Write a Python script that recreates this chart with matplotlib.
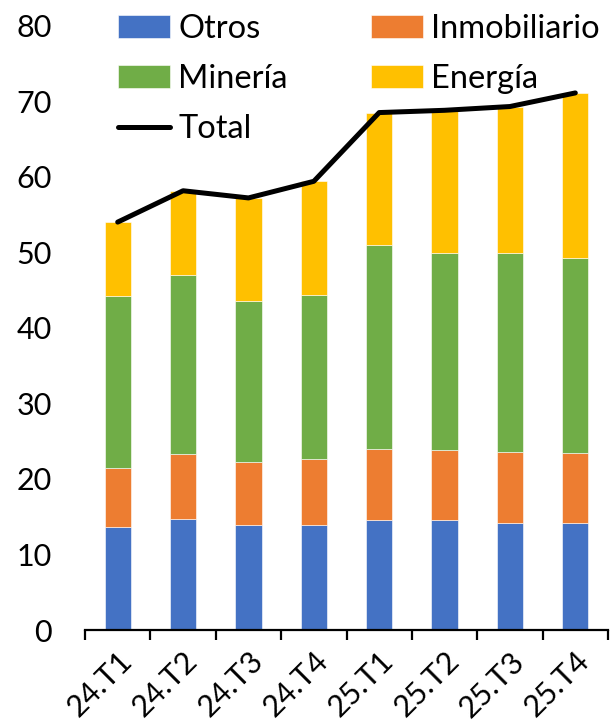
import matplotlib
matplotlib.use("Agg")
import matplotlib.pyplot as plt
import numpy as np

categories = ["24.T1", "24.T2", "24.T3", "24.T4", "25.T1", "25.T2", "25.T3", "25.T4"]
otros = [13.6, 14.65, 13.95, 13.95, 14.6, 14.5, 14.2, 14.1]
inmobiliario = [7.8, 8.65, 8.25, 8.75, 9.3, 9.35, 9.3, 9.3]
mineria = [22.85, 23.7, 21.3, 21.7, 27.1, 26.05, 26.4, 25.8]
energia = [9.75, 11.15, 13.7, 15.0, 17.5, 18.9, 19.4, 21.9]

plt.rcParams['font.family'] = ['Lato', 'DejaVu Sans']

colors = {"Otros": "#4472C4", "Inmobiliario": "#ED7D31", "Minería": "#70AD47", "Energía": "#FFC000"}

fig = plt.figure(figsize=(6.10, 7.21), dpi=100)
ax = fig.add_axes([85/610, 1-630/721, (608-85)/610, (630-25.7)/721])

x = np.arange(len(categories))
w = 0.40
series = [("Otros", otros), ("Inmobiliario", inmobiliario), ("Minería", mineria), ("Energía", energia)]
bottom = np.zeros(len(categories))
handles = {}
for name, vals in series:
    vals = np.array(vals)
    b = ax.bar(x, vals, w, bottom=bottom, color=colors[name], edgecolor='white', linewidth=0.4, label=name, zorder=2)
    handles[name] = b
    bottom = bottom + vals
total = bottom
ln, = ax.plot(x, total, color='black', lw=3.6, label='Total', zorder=3, solid_capstyle='round')
handles['Total'] = ln

ax.set_ylim(0, 80)
ax.set_xlim(-0.5, len(categories) - 0.5)
ax.set_yticks(np.arange(0, 81, 10))
ax.tick_params(axis='y', length=0, labelsize=22, pad=24, colors='#000000')
ax.set_xticks(np.arange(len(categories) + 1) - 0.5)
ax.set_xticklabels([])
ax.tick_params(axis='x', which='major', length=7, width=1.6, direction='out')
ax.set_xticks(x, minor=True)
ax.set_xticklabels(categories, minor=True, rotation=45, ha='right', rotation_mode='anchor', fontsize=22)
ax.tick_params(axis='x', which='minor', length=0, pad=12)
for s in ['left', 'right', 'top']:
    ax.spines[s].set_visible(False)
ax.spines['bottom'].set_linewidth(1.6)

order = ["Otros", "Minería", "Total", "Inmobiliario", "Energía"]
leg = fig.legend([handles[k] for k in order], order, ncol=2, frameon=False,
                 loc='upper left', bbox_to_anchor=(118/610, 1 - 14/721),
                 fontsize=23.5, handlelength=1.6, handleheight=0.7, handletextpad=0.25,
                 labelspacing=0.62, columnspacing=2.55, borderpad=0, borderaxespad=0)

fig.savefig("out.png", dpi=100)
